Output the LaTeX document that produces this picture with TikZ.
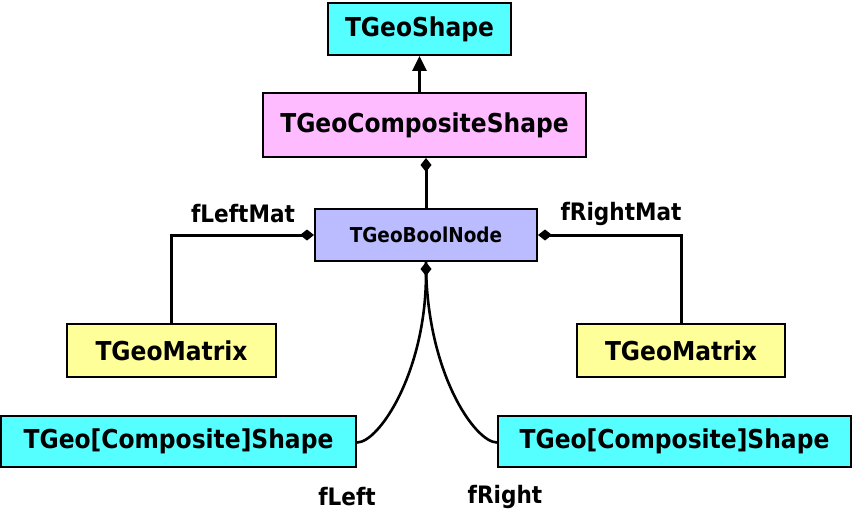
\documentclass[tikz,border=0pt]{standalone}
\usepackage{fontspec}
\setmainfont{DejaVu Sans Condensed}
\usetikzlibrary{arrows.meta}
\begin{document}
\begin{tikzpicture}[x=1pt,y=-1pt,
  box/.style={draw=black,line width=2pt,font=\bfseries\fontsize{26}{28}\selectfont,inner sep=0pt},
  lbl/.style={font=\bfseries\fontsize{24}{26}\selectfont,inner sep=0pt},
  conn/.style={line width=3pt},
  dia/.style={{Diamond[length=14pt,width=11pt]}-}]
\useasboundingbox (0,0) rectangle (852,519);
\definecolor{cyanbox}{RGB}{85,255,255}
\definecolor{pinkbox}{RGB}{255,187,255}
\definecolor{bluebox}{RGB}{187,187,255}
\definecolor{yelbox}{RGB}{255,255,153}
\node[box,fill=cyanbox,minimum width=183pt,minimum height=52pt] (shape) at (419.5,29) {TGeoShape};
\node[box,fill=pinkbox,minimum width=323pt,minimum height=64pt] (comp) at (424.5,125) {TGeoCompositeShape};
\node[box,fill=bluebox,minimum width=222pt,minimum height=52pt,font=\bfseries\fontsize{20.5}{22}\selectfont] (bool) at (426,235) {TGeoBoolNode};
\node[box,fill=yelbox,minimum width=209pt,minimum height=53pt] (matl) at (171.5,350.5) {TGeoMatrix};
\node[box,fill=yelbox,minimum width=208pt,minimum height=53pt] (matr) at (681,350.5) {TGeoMatrix};
\node[box,fill=cyanbox,minimum width=355pt,minimum height=51pt] (csl) at (178.5,441.5) {TGeo[Composite]Shape};
\node[box,fill=cyanbox,minimum width=353pt,minimum height=51pt] (csr) at (674.5,441.5) {TGeo[Composite]Shape};
\draw[conn,-{Triangle[length=15pt,width=14pt]}] (comp.north -| shape.south) -- (shape.south);
\draw[conn,dia] (bool.north |- comp.south) -- (bool.north);
\draw[conn,dia] (bool.west) -| (matl.north);
\draw[conn,dia] (bool.east) -| (matr.north);
\draw[conn,line width=2.6pt,dia] (bool.south) .. controls +(0,110) and +(22,0) .. ([yshift=-1pt]csl.east);
\draw[conn,line width=2.6pt] (bool.south) .. controls +(0,110) and +(-22,0) .. ([yshift=-1pt]csr.west);
\node[lbl] (lfl) at (243,214) {fLeftMat};
\node[lbl] (lfr) at (621,214) {fRightMat};
\node[lbl] (ll) at (347,497) {fLeft};
\node[lbl] (lr) at (505,497) {fRight};
\end{tikzpicture}
\end{document}
